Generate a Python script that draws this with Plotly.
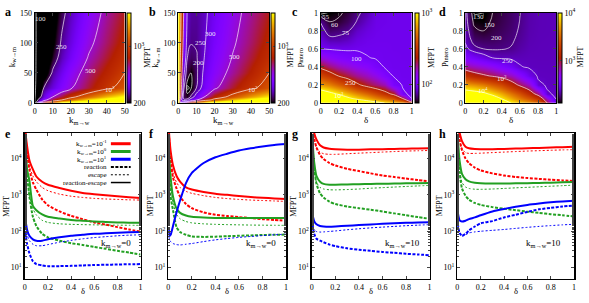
import math
import numpy as np
import plotly.graph_objects as go

W, H = 589, 303
FONT = "Liberation Serif"

# ---------------- heatmap data (MFPT) ----------------
# panel a : x = k_{m->w}, y = k_{w->m}
a_x = [0, 1, 2, 5, 10, 15, 20, 30, 40, 50]
a_y = [0, 2, 5, 10, 25, 50, 75, 100, 150]
a_z = [
    [90, 500, 1000, 3000, 5000, 5000, 5000, 5000, 5000, 5000],
    [90, 250, 350, 650, 1300, 2500, 3500, 4500, 5000, 5000],
    [90, 176, 270, 429, 680, 1000, 1357, 2500, 3500, 4500],
    [90, 134, 203, 315, 500, 667, 891, 1376, 2049, 2800],
    [90, 111, 136, 250, 310, 385, 478, 664, 909, 1197],
    [90, 105, 118, 162, 262, 330, 416, 587, 766, 1000],
    [90, 104, 113, 143, 213, 282, 346, 514, 670, 875],
    [90, 103, 111, 136, 191, 260, 315, 463, 610, 781],
    [90, 103, 109, 129, 172, 229, 283, 404, 550, 699],
]
a_levels = [100, 250, 500, 1000]

# panel b
b_x = [0, 1, 2, 3, 5, 7, 10, 15, 20, 30, 40, 50]
b_y = [0, 2, 5, 10, 25, 50, 75, 100, 150]
b_z = [
    [3000, 2000, 2000, 3000, 4000, 5000, 5000, 5000, 5000, 5000, 5000, 5000],
    [3000, 400, 350, 400, 550, 800, 1200, 2200, 3200, 4500, 5000, 5000],
    [3000, 500, 300, 260, 280, 350, 470, 800, 1200, 2200, 3200, 4200],
    [3000, 700, 320, 230, 210, 260, 340, 520, 750, 1200, 1800, 2500],
    [3000, 900, 420, 260, 185, 195, 250, 360, 470, 680, 920, 1200],
    [3000, 1000, 520, 320, 220, 200, 240, 330, 410, 560, 740, 1000],
    [3000, 1100, 600, 380, 250, 235, 245, 310, 380, 510, 660, 850],
    [3000, 1200, 700, 420, 270, 252, 255, 300, 360, 480, 610, 780],
    [3000, 1300, 800, 500, 290, 265, 262, 290, 340, 450, 560, 700],
]
b_levels = [190, 200, 250, 300, 500, 1000]

# panel c : x = delta, y = p_intero  (one list per delta column)
c_x = [0, 0.1, 0.2, 0.3, 0.4, 0.5, 0.6, 0.7, 0.8, 0.9, 1.0]
c_y = [0, 0.05, 0.1, 0.2, 0.3, 0.4, 0.5, 0.6, 0.7, 0.8, 0.9, 1.0]
c_cols = [
    [3000, 2100, 1450, 640, 370, 230, 150, 100, 90, 82, 74, 52],
    [2500, 1700, 1150, 560, 310, 190, 130, 98, 80, 68, 60, 56],
    [2200, 1400, 950, 450, 245, 165, 118, 97, 80, 70, 62, 58],
    [1900, 1100, 750, 360, 210, 150, 112, 97, 84, 74, 67, 63],
    [1600, 900, 600, 270, 180, 135, 107, 98, 92, 85, 76, 72],
    [1400, 750, 480, 220, 160, 125, 101, 98, 96, 92, 86, 80],
    [1200, 600, 380, 190, 140, 108, 99, 98, 97, 96, 95, 94],
    [1000, 500, 300, 165, 115, 99, 98, 98, 97, 97, 96, 96],
    [850, 400, 230, 108, 99, 98, 98, 97, 97, 97, 97, 97],
    [700, 250, 102, 99, 98, 98, 97, 97, 97, 97, 97, 97],
    [300, 99, 98, 98, 98, 97, 97, 97, 97, 97, 97, 97],
]
c_levels = [55, 60, 75, 100, 250, 1000]

# panel d
d_x = [0, 0.1, 0.2, 0.3, 0.4, 0.5, 0.6, 0.7, 0.8, 0.9, 1.0]
d_y = [0, 0.05, 0.1, 0.2, 0.3, 0.4, 0.5, 0.6, 0.7, 0.8, 0.9, 1.0]
d_cols = [
    [50000, 30000, 16000, 5500, 1700, 750, 400, 270, 240, 230, 225, 220],
    [40000, 25000, 14000, 4800, 1300, 650, 340, 215, 180, 160, 140, 128],
    [35000, 20000, 12000, 4000, 1100, 580, 290, 200, 175, 150, 137, 130],
    [28000, 15000, 8500, 3000, 950, 500, 250, 195, 175, 165, 155, 150],
    [20000, 9500, 6000, 2300, 800, 400, 240, 197, 182, 174, 168, 165],
    [10000, 6000, 3800, 1400, 650, 330, 238, 203, 192, 186, 182, 180],
    [7000, 4000, 2500, 900, 450, 255, 236, 222, 212, 205, 201, 199],
    [5000, 2800, 1500, 620, 300, 242, 238, 234, 230, 227, 225, 224],
    [3500, 1700, 800, 262, 243, 240, 238, 236, 235, 234, 233, 233],
    [1000, 600, 255, 245, 242, 240, 238, 237, 236, 235, 235, 235],
    [260, 248, 245, 243, 241, 240, 239, 238, 237, 237, 236, 236],
]
d_levels = [130, 150, 200, 250, 1000, 10000]

# ---------------- line data ----------------
delta = [0.005, 0.01, 0.02, 0.04, 0.07, 0.1, 0.15, 0.2, 0.3, 0.4, 0.5, 0.6, 0.7, 0.8, 0.9, 1.0]

# panel e  (k_{m->w}=0)
e_red_re = [60000, 40000, 22000, 9000, 5000, 3200, 2300, 1900, 1550, 1300, 1130, 1040, 970, 910, 860, 820]
e_red_esc = [40000, 25000, 13000, 6000, 3300, 2300, 1600, 1300, 1050, 920, 850, 800, 770, 750, 730, 720]
e_red_react = [50000, 30000, 14000, 5000, 2200, 1400, 750, 520, 350, 265, 215, 175, 152, 130, 112, 98]
e_grn_re = [30000, 12000, 5000, 2500, 500, 380, 290, 250, 225, 205, 195, 185, 180, 175, 172, 170]
e_grn_esc = [20000, 8000, 3000, 1000, 420, 280, 200, 175, 160, 155, 152, 150, 148, 147, 146, 145]
e_grn_react = [20000, 10000, 4000, 900, 250, 140, 85, 68, 55, 47, 42, 37, 33, 29, 26, 23]
e_blu_re = [210, 170, 110, 75, 60, 55, 55, 60, 68, 75, 80, 85, 88, 91, 94, 96]
e_blu_esc = [150, 120, 80, 55, 44, 40, 40, 43, 50, 56, 62, 67, 71, 75, 78, 80]
e_blu_react = [90, 70, 45, 25, 15, 12.5, 11.5, 11, 11, 11.2, 11.5, 11.8, 12, 12.2, 12.4, 12.5]

# panel f  (k_{m->w}=0)
f_red_re = [60000, 35000, 16000, 6500, 3300, 2300, 1600, 1400, 1200, 1080, 1000, 930, 870, 830, 800, 775]
f_red_esc = [40000, 22000, 10000, 4000, 2200, 1600, 1250, 1100, 950, 850, 790, 750, 720, 700, 680, 660]
f_red_react = [50000, 25000, 9000, 3000, 1500, 900, 560, 430, 330, 285, 262, 245, 230, 215, 205, 195]
f_grn_re = [20000, 8000, 3000, 900, 420, 320, 270, 250, 238, 233, 230, 230, 230, 230, 230, 230]
f_grn_esc = [12000, 5000, 1800, 600, 290, 220, 185, 170, 160, 155, 152, 150, 148, 147, 146, 145]
f_grn_react = [15000, 5000, 900, 380, 130, 95, 80, 72, 70, 71, 73, 75, 77, 79, 80, 81]
f_blu_re = [110, 75, 80, 140, 330, 700, 2100, 4000, 7500, 10800, 13500, 16500, 19000, 21500, 23500, 25000]
f_blu_esc = [70, 60, 52, 46, 43, 42, 44, 46, 52, 58, 63, 68, 72, 76, 80, 83]

# panel g  (k_{m->w}=10)
g_red_re = [90000, 70000, 50000, 33000, 23000, 20000, 18500, 18000, 17500, 17500, 17800, 18000, 18300, 18600, 18900, 19200]
g_red_esc = [70000, 50000, 33000, 20000, 15000, 13500, 13000, 13000, 13500, 14000, 14500, 15000, 15500, 16000, 16300, 16600]
g_red_react = [80000, 55000, 35000, 20000, 12500, 9700, 7500, 6400, 5200, 4500, 3900, 3400, 3100, 2800, 2550, 2350]
g_grn_re = [40000, 20000, 8000, 3300, 2300, 2000, 1900, 1900, 1930, 1960, 1990, 2020, 2050, 2080, 2100, 2120]
g_grn_esc = [25000, 12000, 5000, 2200, 1600, 1450, 1380, 1370, 1400, 1450, 1520, 1580, 1640, 1700, 1760, 1820]
g_grn_react = [30000, 14000, 5500, 2000, 1100, 850, 650, 560, 480, 430, 390, 350, 310, 275, 245, 220]
g_blu_re = [300, 250, 190, 155, 140, 135, 133, 135, 142, 148, 154, 160, 165, 170, 174, 178]
g_blu_esc = [160, 130, 110, 98, 95, 96, 99, 102, 110, 117, 124, 130, 136, 142, 147, 152]
g_blu_react = [200, 130, 85, 62, 55, 50, 43, 39, 34, 31, 29, 27, 25.5, 24, 23, 22]

# panel h  (k_{m->w}=10)
h_red_re = [90000, 70000, 50000, 30000, 21000, 19000, 18200, 18000, 18000, 18300, 18700, 19100, 19500, 20000, 20500, 21000]
h_red_esc = [70000, 50000, 32000, 19000, 14500, 13800, 13800, 14000, 14500, 15000, 15500, 16000, 16400, 16800, 17200, 17500]
h_red_react = [80000, 55000, 32000, 17000, 10000, 7500, 5600, 4700, 3900, 3400, 3100, 2900, 2750, 2600, 2500, 2400]
h_grn_re = [40000, 20000, 8500, 3800, 2700, 2350, 2150, 2080, 2050, 2060, 2080, 2100, 2130, 2170, 2220, 2270]
h_grn_esc = [25000, 12000, 5000, 2200, 1650, 1500, 1430, 1420, 1450, 1500, 1560, 1610, 1670, 1730, 1790, 1850]
h_grn_react = [25000, 10000, 4000, 1500, 950, 740, 600, 530, 460, 415, 380, 345, 320, 295, 275, 255]
h_blu_re = [320, 260, 200, 185, 195, 215, 240, 275, 350, 410, 470, 530, 580, 625, 660, 690]
h_blu_esc = [140, 110, 85, 73, 80, 90, 96, 100, 106, 112, 120, 128, 136, 143, 150, 155]
h_blu_react = [160, 120, 90, 75, 85, 105, 135, 165, 190, 240, 285, 340, 400, 440, 480, 510]

legend_labels = ["k<sub>w→m</sub>=10<sup>-1</sup>", "k<sub>w→m</sub>=10<sup>0</sup>",
                 "k<sub>w→m</sub>=10<sup>1</sup>", "reaction", "escape", "reaction-escape"]

# ---------------- styles / layout helpers ----------------
RED, GRN, BLU = "#ff0000", "#22a022", "#0000ff"
STY = {
    "re": dict(width=2, dash="solid"),
    "react": dict(width=2, dash="3px,1.5px"),
    "esc": dict(width=1, dash="2px,2px"),
}


def gp_scale(n=40):
    out = []
    for i in range(n + 1):
        t = i / n
        r = math.sqrt(t)
        g = t ** 3
        b = max(0.0, math.sin(2 * math.pi * t))
        out.append([t, f"rgb({round(r*255)},{round(g*255)},{round(b*255)})"])
    return out


CS = gp_scale()


def px_x(p):
    return p / W


def px_y(p):
    return 1 - p / H


fig = go.Figure()
layout = dict(width=W, height=H, margin=dict(l=0, r=0, t=0, b=0),
              paper_bgcolor="white", plot_bgcolor="white", showlegend=False,
              font=dict(family=FONT, size=8, color="black"))

top_x = [(33, 124), (178, 270), (322, 414), (468, 560)]
top_y = (9, 102)
cb_x = [126, 272, 417, 562]
bot_x = [(23, 140), (168, 287), (313, 432), (460, 578)]
bot_y = (133, 283)

annotations = []
shapes = []


def ann(x, y, text, size=8, angle=0, xanchor="center", yanchor="middle", color="black", bold=False, xref="paper", yref="paper"):
    if bold:
        text = f"<b>{text}</b>"
    annotations.append(dict(x=x, y=y, xref=xref, yref=yref, text=text, showarrow=False,
                            textangle=angle, xanchor=xanchor, yanchor=yanchor,
                            font=dict(family=FONT, size=size, color=color)))


heat_specs = [
    (a_x, a_y, np.array(a_z, float), a_levels, (math.log10(200), math.log10(2600)),
     [math.log10(200), 3], ["200", "10<sup>3</sup>"], [0, 50], [0, 150], 10, 50),
    (b_x, b_y, np.array(b_z, float), b_levels, (math.log10(200), math.log10(2600)),
     [math.log10(200), 3], ["200", "10<sup>3</sup>"], [0, 50], [0, 150], 10, 50),
    (c_x, c_y, np.array(c_cols, float).T, c_levels, (math.log10(56), 3),
     [2, 3], ["10<sup>2</sup>", "10<sup>3</sup>"], [0, 1], [0, 1], 0.2, 0.2),
    (d_x, d_y, np.array(d_cols, float).T, d_levels, (math.log10(135), 4),
     [3, 4], ["10<sup>3</sup>", "10<sup>4</sup>"], [0, 1], [0, 1], 0.2, 0.2),
]

for i, (hx, hy, hz, levels, (zmin, zmax), tv, tt, xr, yr, dx, dy) in enumerate(heat_specs):
    n = i + 1
    xa = "x" if n == 1 else f"x{n}"
    ya = "y" if n == 1 else f"y{n}"
    lz = np.log10(hz)
    fig.add_trace(go.Heatmap(
        x=hx, y=hy, z=lz, zmin=zmin, zmax=zmax, zsmooth="best", colorscale=CS,
        xaxis=xa, yaxis=ya, hoverinfo="skip",
        colorbar=dict(x=px_x(cb_x[i]), xanchor="left", xpad=0, ypad=0,
                      y=px_y(top_y[0]), yanchor="top", len=(top_y[1] - top_y[0]) / H,
                      thickness=4, outlinewidth=1, outlinecolor="black",
                      tickvals=tv, ticktext=tt, ticks="inside", ticklen=2,
                      tickfont=dict(family=FONT, size=8))))
    for lv in levels:
        L = math.log10(lv)
        fig.add_trace(go.Contour(
            x=hx, y=hy, z=lz, autocontour=False,
            contours=dict(start=L, end=L, size=1, coloring="none"),
            line=dict(color="rgba(255,255,255,0.65)", width=1, smoothing=1.2),
            showscale=False, xaxis=xa, yaxis=ya, hoverinfo="skip"))
    ax = dict(domain=[px_x(top_x[i][0]), px_x(top_x[i][1])], range=xr, dtick=dx,
              showline=True, linecolor="black", linewidth=1, mirror="ticks",
              ticks="inside", ticklen=3, showgrid=False, zeroline=False,
              anchor=ya, tickfont=dict(family=FONT, size=8))
    ay = dict(domain=[px_y(top_y[1]), px_y(top_y[0])], range=yr, dtick=dy,
              showline=True, linecolor="black", linewidth=1, mirror="ticks",
              ticks="inside", ticklen=3, showgrid=False, zeroline=False,
              anchor=xa, tickfont=dict(family=FONT, size=8))
    layout["xaxis" if n == 1 else f"xaxis{n}"] = ax
    layout["yaxis" if n == 1 else f"yaxis{n}"] = ay

# contour labels (on the heat maps)
lab_a = [(3, 139, "100"), (15, 93, "250"), (31, 53, "500"), (42, 22, "10<sup>3</sup>")]
lab_b = [(18, 114, "300"), (12, 100, "250"), (11, 66, "200"), (31, 77, "500"), (41, 22, "10<sup>3</sup>")]
lab_c = [(0.06, 0.95, "55"), (0.16, 0.86, "60"), (0.28, 0.77, "75"), (0.39, 0.49, "100"),
         (0.33, 0.22, "250"), (0.2, 0.085, "10<sup>3</sup>")]
lab_d = [(0.15, 0.95, "130"), (0.27, 0.86, "150"), (0.34, 0.72, "200"), (0.46, 0.46, "250"),
         (0.4, 0.27, "10<sup>3</sup>"), (0.19, 0.14, "10<sup>4</sup>")]
for n, labs in zip([1, 2, 3, 4], [lab_a, lab_b, lab_c, lab_d]):
    xa = "x" if n == 1 else f"x{n}"
    ya = "y" if n == 1 else f"y{n}"
    for (lx, ly, t) in labs:
        ann(lx, ly, t, size=7, color="rgba(255,255,255,0.9)", xref=xa, yref=ya)

# ---------------- line panels ----------------
panels = [
    (e_red_re, e_red_esc, e_red_react, e_grn_re, e_grn_esc, e_grn_react, e_blu_re, e_blu_esc, e_blu_react, "k<sub>m→w</sub>=0"),
    (f_red_re, f_red_esc, f_red_react, f_grn_re, f_grn_esc, f_grn_react, f_blu_re, f_blu_esc, None, "k<sub>m→w</sub>=0"),
    (g_red_re, g_red_esc, g_red_react, g_grn_re, g_grn_esc, g_grn_react, g_blu_re, g_blu_esc, g_blu_react, "k<sub>m→w</sub>=10"),
    (h_red_re, h_red_esc, h_red_react, h_grn_re, h_grn_esc, h_grn_react, h_blu_re, h_blu_esc, h_blu_react, "k<sub>m→w</sub>=10"),
]
ann_pos = [0.79, 0.79, 0.77, 0.74]

for j, p in enumerate(panels):
    n = j + 5
    xa, ya = f"x{n}", f"y{n}"
    series = [(p[0], RED, "re"), (p[1], RED, "esc"), (p[2], RED, "react"),
              (p[3], GRN, "re"), (p[4], GRN, "esc"), (p[5], GRN, "react"),
              (p[6], BLU, "re"), (p[7], BLU, "esc"), (p[8], BLU, "react")]
    for vals, col, st in series:
        if vals is None:
            continue
        fig.add_trace(go.Scatter(
            x=delta, y=vals, mode="lines", xaxis=xa, yaxis=ya, hoverinfo="skip",
            line=dict(color=col, width=STY[st]["width"], dash=STY[st]["dash"],
                      shape="spline", smoothing=0.6)))
    layout[f"xaxis{n}"] = dict(domain=[px_x(bot_x[j][0]), px_x(bot_x[j][1])], range=[0, 1], dtick=0.2,
                               showline=True, linecolor="black", linewidth=1.5, mirror="ticks",
                               ticks="inside", ticklen=3, showgrid=False, zeroline=False,
                               anchor=ya, tickfont=dict(family=FONT, size=8))
    layout[f"yaxis{n}"] = dict(domain=[px_y(bot_y[1]), px_y(bot_y[0])], type="log",
                               range=[math.log10(5), math.log10(5e4)],
                               tickvals=[10, 100, 1000, 10000],
                               ticktext=["10<sup>1</sup>", "10<sup>2</sup>", "10<sup>3</sup>", "10<sup>4</sup>"],
                               showline=True, linecolor="black", linewidth=1.5, mirror="ticks",
                               ticks="inside", ticklen=3, showgrid=False, zeroline=False,
                               minor=dict(ticks="inside", ticklen=2, showgrid=False),
                               anchor=xa, tickfont=dict(family=FONT, size=8))
    ann(ann_pos[j], math.log10(45), p[9], size=9, xref=xa, yref=ya)

# ---------------- legend in panel e ----------------
leg_rows = [144, 152, 160, 168, 176, 184]
leg_cols = [RED, GRN, BLU, "black", "black", "black"]
leg_sty = [dict(width=3, dash="solid")] * 3 + [
    dict(width=2, dash="3px,1.5px"), dict(width=1, dash="2px,2px"), dict(width=1.5, dash="solid")]
for r, t, c, s in zip(leg_rows, legend_labels, leg_cols, leg_sty):
    ann(px_x(108), px_y(r), t, size=7, xanchor="right")
    shapes.append(dict(type="line", xref="paper", yref="paper",
                       x0=px_x(110), x1=px_x(130), y0=px_y(r), y1=px_y(r),
                       line=dict(color=c, width=s["width"], dash=s["dash"])))

# ---------------- axis titles, panel letters ----------------
for i, lt in enumerate(["a", "b", "c", "d"]):
    lx = [1, 146, 291, 439][i]
    ann(px_x(lx), px_y(8), lt, size=12, bold=True, xanchor="left")
for i, lt in enumerate(["e", "f", "g", "h"]):
    lx = [1, 146, 291, 439][i]
    ann(px_x(lx), px_y(134), lt, size=12, bold=True, xanchor="left")

for i in range(4):
    cx = (top_x[i][0] + top_x[i][1]) / 2
    xt = "k<sub>m→w</sub>" if i < 2 else "δ"
    ann(px_x(cx), px_y(120), xt, size=9)
    yt = "k<sub>w→m</sub>" if i < 2 else "p<sub>intero</sub>"
    ann(px_x([10, 155, 300, 446][i]), px_y(55), yt, size=9, angle=-90)
    ann(px_x([147, 291, 434, 584][i]), px_y(55), "MFPT", size=8, angle=-90)
    bx = (bot_x[i][0] + bot_x[i][1]) / 2
    ann(px_x(bx), px_y(302.5), "δ", size=8.5, yanchor="bottom")
    ann(px_x([5, 150, 295, 442][i]), px_y(208), "MFPT", size=8, angle=-90)

layout["annotations"] = annotations
layout["shapes"] = shapes
fig.update_layout(**layout)
fig.write_html("out.html", config={"displayModeBar": False, "staticPlot": True},
               post_script="document.body.style.margin='0px';document.body.style.padding='0px';document.body.style.overflow='hidden';")
